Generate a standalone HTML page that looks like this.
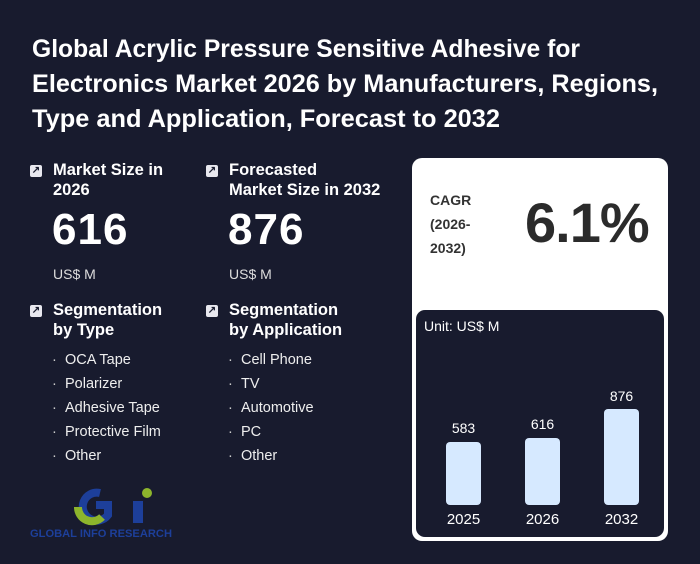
<!DOCTYPE html>
<html><head><meta charset="utf-8"><style>
body{margin:0;width:700px;height:564px;background:#181b2e;overflow:hidden;font-family:"Liberation Sans",sans-serif;color:#fff;position:relative}
.a{position:absolute}
.ic{position:absolute;width:12px;height:12px;background:#e8e8ef;border-radius:2px;color:#181b2e;font-size:10px;line-height:12px;text-align:center;font-weight:bold}
.h{position:absolute;font-weight:bold;font-size:16.5px;line-height:20px}
.big{position:absolute;font-weight:bold;font-size:44px;letter-spacing:1px}
.u{position:absolute;font-size:14px;color:#ddd}
.li{position:absolute;font-size:14.5px;color:#eee}
.li::before{content:"·";position:absolute;left:-13px;color:#ccc}
</style></head><body>
<svg class="a" style="left:0;top:0" width="700" height="140">
<g font-family="Liberation Sans" font-weight="bold" font-size="25" fill="#fff">
<text x="32" y="57" textLength="548" lengthAdjust="spacingAndGlyphs">Global Acrylic Pressure Sensitive Adhesive for</text>
<text x="32" y="92" textLength="626" lengthAdjust="spacingAndGlyphs">Electronics Market 2026 by Manufacturers, Regions,</text>
<text x="32" y="127" textLength="468" lengthAdjust="spacingAndGlyphs">Type and Application, Forecast to 2032</text>
</g></svg>
<div class="ic" style="left:30px;top:165px">↗</div>
<div class="h" style="left:53px;top:160px">Market Size in<br>2026</div>
<div class="big" style="left:52px;top:205px">616</div>
<div class="u" style="left:53px;top:266px">US$ M</div>
<div class="ic" style="left:206px;top:165px">↗</div>
<div class="h" style="left:229px;top:160px">Forecasted<br>Market Size in 2032</div>
<div class="big" style="left:228px;top:205px">876</div>
<div class="u" style="left:229px;top:266px">US$ M</div>
<div class="ic" style="left:30px;top:305px">↗</div>
<div class="h" style="left:53px;top:300px">Segmentation<br>by Type</div>
<div class="ic" style="left:206px;top:305px">↗</div>
<div class="h" style="left:229px;top:300px">Segmentation<br>by Application</div>
<div class="li" style="left:65px;top:352px">OCA Tape</div>
<div class="li" style="left:65px;top:376px">Polarizer</div>
<div class="li" style="left:65px;top:400px">Adhesive Tape</div>
<div class="li" style="left:65px;top:424px">Protective Film</div>
<div class="li" style="left:65px;top:448px">Other</div>
<div class="li" style="left:241px;top:352px">Cell Phone</div>
<div class="li" style="left:241px;top:376px">TV</div>
<div class="li" style="left:241px;top:400px">Automotive</div>
<div class="li" style="left:241px;top:424px">PC</div>
<div class="li" style="left:241px;top:448px">Other</div>
<svg class="a" style="left:28px;top:485px" width="150" height="55">
<path d="M72 8 A14 14 0 1 0 80 30 L80 20 L68 20" fill="none" stroke="#1d3f9a" stroke-width="8"/>
<path d="M50 22 A14 14 0 0 0 74 32" fill="none" stroke="#8db52c" stroke-width="8"/>
<circle cx="119" cy="8" r="5" fill="#8db52c"/>
<rect x="105" y="16" width="10" height="22" fill="#1d3f9a"/>
<text x="2" y="52" font-family="Liberation Sans" font-weight="bold" font-size="11" fill="#1d3f9a" textLength="142" lengthAdjust="spacingAndGlyphs">GLOBAL INFO RESEARCH</text>
</svg>
<div class="a" style="left:412px;top:158px;width:256px;height:383px;background:#fff;border-radius:10px"></div>
<div class="a" style="left:430px;top:188px;color:#333;font-weight:bold;font-size:14px;line-height:24px">CAGR<br>(2026-<br>2032)</div>
<div class="a" style="left:525px;top:190px;color:#2b2b2b;font-weight:bold;font-size:56px;letter-spacing:-1px">6.1%</div>
<div class="a" style="left:416px;top:310px;width:248px;height:227px;background:#181b2e;border-radius:9px"></div>
<div class="a" style="left:424px;top:318px;font-size:14px">Unit: US$ M</div>
<div class="a" style="left:446px;top:442px;width:35px;height:63px;background:#d6e9ff;border-radius:4px"></div>
<div class="a" style="left:525px;top:438px;width:35px;height:67px;background:#d6e9ff;border-radius:4px"></div>
<div class="a" style="left:604px;top:409px;width:35px;height:96px;background:#d6e9ff;border-radius:4px"></div>
<div class="a" style="left:443px;top:420px;width:41px;text-align:center;font-size:14px">583</div>
<div class="a" style="left:522px;top:416px;width:41px;text-align:center;font-size:14px">616</div>
<div class="a" style="left:601px;top:388px;width:41px;text-align:center;font-size:14px">876</div>
<div class="a" style="left:438px;top:511px;width:51px;text-align:center;font-size:15px">2025</div>
<div class="a" style="left:517px;top:511px;width:51px;text-align:center;font-size:15px">2026</div>
<div class="a" style="left:596px;top:511px;width:51px;text-align:center;font-size:15px">2032</div>
</body></html>
